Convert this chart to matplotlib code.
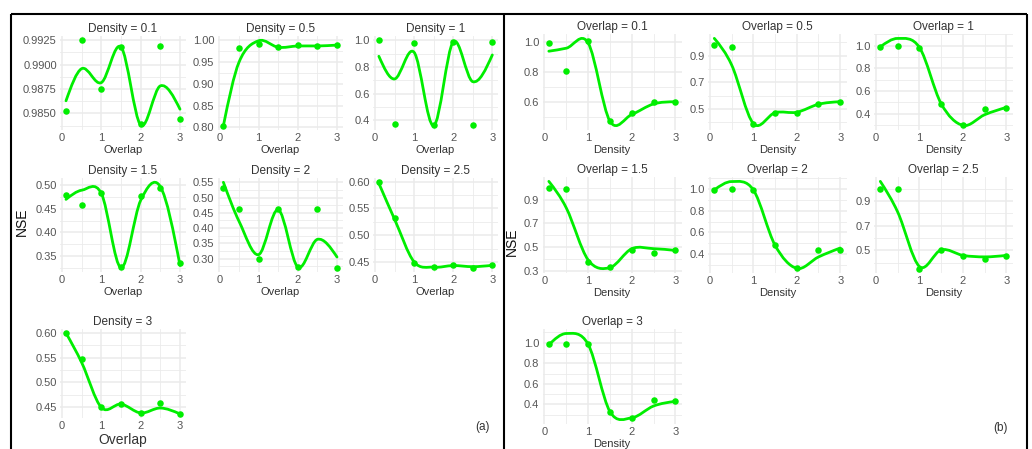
import matplotlib
matplotlib.use("Agg")
import numpy as np
import matplotlib.pyplot as plt
from matplotlib.lines import Line2D
from matplotlib.path import Path
from matplotlib.patches import PathPatch

plt.rcParams['font.family'] = ['Liberation Sans', 'DejaVu Sans']

W, H = 1032, 449
GREEN = '#00ee00'
TICK_COLOR = '#555555'
TITLE_COLOR = '#333333'
GRID_COLOR = '#ebebeb'

# x positions shared by every facet (overlap in (a), density in (b))
x_levels = [0.1, 0.5, 1, 1.5, 2, 2.5, 3]

# ---- (a) NSE against overlap, one facet per density ----
density_titles = ['0.1', '0.5', '1', '1.5', '2', '2.5', '3']

dens_01_obs = [0.98527, 0.9925, 0.9875, 0.9918, 0.9839, 0.9919, 0.98442]
dens_01_fit = [0.98629, 0.98959, 0.98816, 0.9918, 0.9838, 0.98782, 0.98543]
dens_05_obs = [0.804, 0.982, 0.992, 0.9846, 0.9885, 0.987, 0.990]
dens_05_fit = [0.804, 0.950, 0.999, 0.984, 0.987, 0.987, 0.989]
dens_1_obs = [1.0, 0.375, 0.98, 0.362, 0.988, 0.362, 0.988]
dens_1_fit = [0.88, 0.71, 0.91, 0.36, 0.988, 0.69, 0.89]
dens_15_obs = [0.480, 0.458, 0.484, 0.326, 0.477, 0.495, 0.335]
dens_15_fit = [0.470, 0.4895, 0.4825, 0.325, 0.468, 0.497, 0.33]
dens_2_obs = [0.530, 0.463, 0.300, 0.461, 0.272, 0.461, 0.270]
dens_2_fit = [0.55, 0.422, 0.313, 0.46, 0.272, 0.363, 0.305]
dens_25_obs = [0.599, 0.532, 0.447, 0.440, 0.4435, 0.439, 0.4435]
dens_25_fit = [0.597, 0.530, 0.450, 0.440, 0.443, 0.441, 0.4435]
dens_3_obs = [0.600, 0.5468, 0.451, 0.4567, 0.438, 0.459, 0.436]
dens_3_fit = [0.600, 0.540, 0.449, 0.456, 0.438, 0.448, 0.436]

dens_ticks = [
    ['0.9850', '0.9875', '0.9900', '0.9925'],
    ['0.80', '0.85', '0.90', '0.95', '1.00'],
    ['0.4', '0.6', '0.8', '1.0'],
    ['0.35', '0.40', '0.45', '0.50'],
    ['0.30', '0.35', '0.40', '0.45', '0.50', '0.55'],
    ['0.45', '0.50', '0.55', '0.60'],
    ['0.45', '0.50', '0.55', '0.60'],
]

# ---- (b) NSE against density, one facet per overlap ----
overlap_titles = ['0.1', '0.5', '1', '1.5', '2', '2.5', '3']

ovl_01_obs = [0.996, 0.81, 1.01, 0.475, 0.53, 0.60, 0.604]
ovl_01_fit = [0.94, 0.96, 0.995, 0.475, 0.52, 0.59, 0.604]
ovl_05_obs = [0.979, 0.967, 0.386, 0.472, 0.472, 0.539, 0.554]
ovl_05_fit = [1.03, 0.83, 0.39, 0.472, 0.475, 0.535, 0.554]
ovl_1_obs = [0.991, 0.997, 0.982, 0.486, 0.295, 0.444, 0.450]
ovl_1_fit = [0.99, 1.065, 0.985, 0.486, 0.295, 0.39, 0.455]
ovl_15_obs = [0.999, 0.99, 0.372, 0.33, 0.475, 0.45, 0.47]
ovl_15_fit = [1.055, 0.83, 0.39, 0.325, 0.485, 0.485, 0.47]
ovl_2_obs = [0.991, 1.0, 0.991, 0.482, 0.27, 0.443, 0.443]
ovl_2_fit = [0.99, 1.067, 0.99, 0.482, 0.27, 0.375, 0.457]
ovl_25_obs = [1.0, 0.995, 0.353, 0.50, 0.455, 0.428, 0.455]
ovl_25_fit = [1.058, 0.81, 0.37, 0.505, 0.46, 0.448, 0.46]
ovl_3_obs = [0.99, 0.99, 0.985, 0.33, 0.27, 0.44, 0.43]
ovl_3_fit = [0.98, 1.09, 0.985, 0.33, 0.27, 0.385, 0.43]

ovl_ticks = [
    ['0.6', '0.8', '1.0'],
    ['0.5', '0.7', '0.9'],
    ['0.4', '0.6', '0.8', '1.0'],
    ['0.3', '0.5', '0.7', '0.9'],
    ['0.4', '0.6', '0.8', '1.0'],
    ['0.5', '0.7', '0.9'],
    ['0.4', '0.6', '0.8', '1.0'],
]

x_ticks = [0, 1, 2, 3]


def smooth_path(xs, ys):
    """Cubic Hermite curve through the fitted values, as a Bezier path."""
    xs = np.asarray(xs, float)
    ys = np.asarray(ys, float)
    h = np.diff(xs)
    d = np.diff(ys) / h
    m = np.empty_like(ys)
    m[1:-1] = (ys[2:] - ys[:-2]) / (xs[2:] - xs[:-2])
    m[0] = (3 * d[0] - m[1]) / 2
    m[-1] = (3 * d[-1] - m[-2]) / 2
    verts = [(xs[0], ys[0])]
    codes = [Path.MOVETO]
    for i in range(len(xs) - 1):
        verts += [(xs[i] + h[i] / 3, ys[i] + m[i] * h[i] / 3),
                  (xs[i + 1] - h[i] / 3, ys[i + 1] - m[i + 1] * h[i] / 3),
                  (xs[i + 1], ys[i + 1])]
        codes += [Path.CURVE4] * 3
    return Path(verts, codes)


def px_axes(fig, left, top, right, bottom):
    return fig.add_axes([left / W, 1 - bottom / H, (right - left) / W, (bottom - top) / H])


def draw_facet(ax, title, obs, fit, ticks, xlabel, xlabel_size):
    path = smooth_path(x_levels, fit)
    ax.add_patch(PathPatch(path, facecolor='none', edgecolor=GREEN, lw=2.0,
                           capstyle='round', joinstyle='round', zorder=3))
    ax.scatter(x_levels, obs, s=22, color=GREEN, linewidths=0, zorder=4)

    ext = path.get_extents()
    ylo = min(ext.y0, min(obs))
    yhi = max(ext.y1, max(obs))
    ypad = 0.05 * (yhi - ylo)
    ax.set_ylim(ylo - ypad, yhi + ypad)
    xpad = 0.05 * (max(x_levels) - min(x_levels))
    ax.set_xlim(min(x_levels) - xpad, max(x_levels) + xpad)

    yt = [float(t) for t in ticks]
    step = yt[1] - yt[0]
    lo, hi = ax.get_ylim()
    yminor = [v for v in np.arange(yt[0] - step / 2, yt[-1] + step, step) if lo <= v <= hi]
    ax.set_yticks(yt)
    ax.set_yticklabels(ticks)
    ax.set_yticks(yminor, minor=True)
    ax.set_xticks(x_ticks)
    ax.set_xticklabels([str(t) for t in x_ticks])
    ax.set_xticks([0.5, 1.5, 2.5], minor=True)

    ax.grid(which='major', color=GRID_COLOR, lw=1.1, zorder=0)
    ax.grid(which='minor', color=GRID_COLOR, lw=0.6, zorder=0)
    ax.set_axisbelow(True)
    for s in ax.spines.values():
        s.set_visible(False)
    ax.tick_params(which='both', length=0, labelsize=8, labelcolor=TICK_COLOR, pad=2.5)
    ax.set_title(title, fontsize=8.5, color=TITLE_COLOR, pad=3)
    ax.set_xlabel(xlabel, fontsize=xlabel_size, color=TITLE_COLOR, labelpad=1)


fig = plt.figure(figsize=(W / 100, H / 100), dpi=100)

a_cols = [(60.3, 185.7), (217.7, 342.7), (373.2, 498.0)]
a_rows = [(36, 130), (178, 272), (329, 418)]
b_cols = [(542.5, 681.8), (708.0, 846.5), (874.0, 1012.8)]
b_rows = [(34, 130), (177, 273), (329, 424)]

a_obs = [dens_01_obs, dens_05_obs, dens_1_obs, dens_15_obs, dens_2_obs, dens_25_obs, dens_3_obs]
a_fit = [dens_01_fit, dens_05_fit, dens_1_fit, dens_15_fit, dens_2_fit, dens_25_fit, dens_3_fit]
b_obs = [ovl_01_obs, ovl_05_obs, ovl_1_obs, ovl_15_obs, ovl_2_obs, ovl_25_obs, ovl_3_obs]
b_fit = [ovl_01_fit, ovl_05_fit, ovl_1_fit, ovl_15_fit, ovl_2_fit, ovl_25_fit, ovl_3_fit]

for k in range(7):
    r, c = divmod(k, 3)
    ax = px_axes(fig, a_cols[c][0], a_rows[r][0], a_cols[c][1], a_rows[r][1])
    big = (k == 6)
    draw_facet(ax, f'Density = {density_titles[k]}', a_obs[k], a_fit[k], dens_ticks[k],
               'Overlap', 10 if big else 8)

for k in range(7):
    r, c = divmod(k, 3)
    ax = px_axes(fig, b_cols[c][0], b_rows[r][0], b_cols[c][1], b_rows[r][1])
    draw_facet(ax, f'Overlap = {overlap_titles[k]}', b_obs[k], b_fit[k], ovl_ticks[k],
               'Density', 8)

fig.text(21.7 / W, 1 - 221.7 / H, 'NSE', rotation=90, fontsize=10, color='#111111',
         ha='center', va='center')
fig.text(511.7 / W, 1 - 242 / H, 'NSE', rotation=90, fontsize=10, color='#111111',
         ha='center', va='center')
fig.text(483 / W, 1 - 427 / H, '(a)', fontsize=8.5, color=TITLE_COLOR, ha='center', va='center')
fig.text(1000 / W, 1 - 428 / H, '(b)', fontsize=8.5, color=TITLE_COLOR, ha='center', va='center')

# frames around the two composite panels
frame = dict(transform=fig.transFigure, color='black', lw=1.5, solid_capstyle='butt')
top_y = 1 - 13.5 / H
fig.add_artist(Line2D([10.5 / W, 1026.5 / W], [top_y, top_y], **frame))
for xp in (10.5, 503.5, 1026.5):
    fig.add_artist(Line2D([xp / W, xp / W], [0, top_y], **frame))

fig.savefig('out.png', dpi=100)
